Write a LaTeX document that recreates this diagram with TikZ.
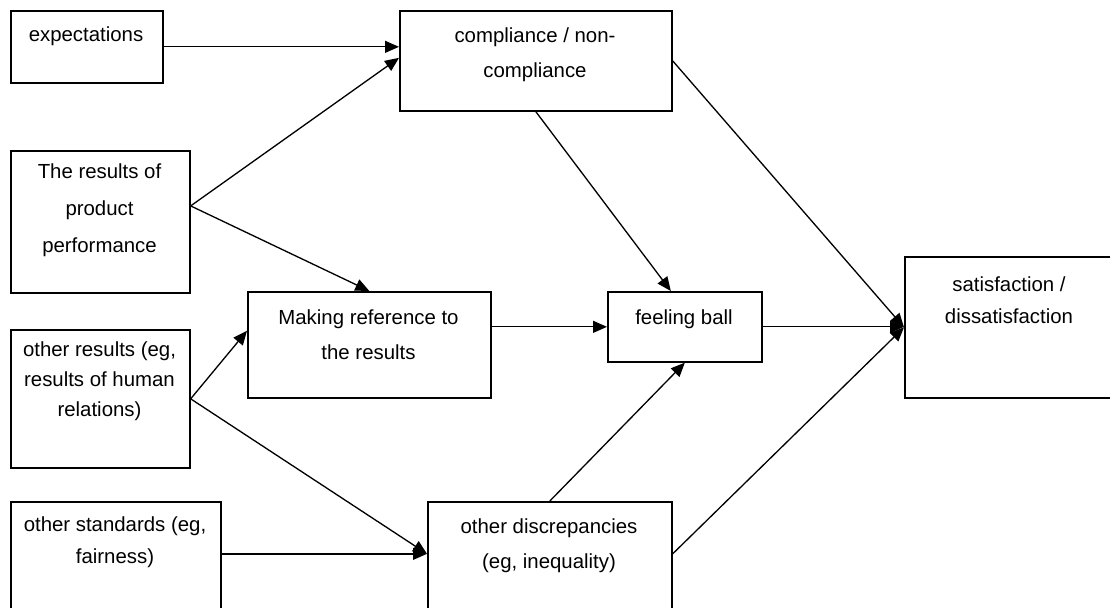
\documentclass[tikz,border=0pt]{standalone}
\usepackage{fontspec}
\setmainfont{Liberation Sans}
\usetikzlibrary{arrows.meta}

\begin{document}
\begin{tikzpicture}[x=0.2mm,y=-0.2mm,>={Triangle[length=2.8mm,width=2.4mm]},
  box/.style={draw,line width=0.95pt,anchor=north west,inner sep=0pt},
  boxtext/.style={align=center,inner sep=0pt,font=\fontsize{11.6}{#1}\selectfont},
  boxtext/.default=19.8pt,
  conn/.style={->,line width=0.75pt}]
  \useasboundingbox (0,0) rectangle (1110,607);
  \clip (0,0) rectangle (1110,607);
  \node[box,minimum width=30.4mm,minimum height=14.4mm] (exp) at (10,10) {};
  \node[box,minimum width=54.4mm,minimum height=20mm] (comp) at (399,10) {};
  \node[box,minimum width=35.8mm,minimum height=28.4mm] (prod) at (10,150) {};
  \node[box,minimum width=48.6mm,minimum height=21.2mm] (mref) at (247,291) {};
  \node[box,minimum width=30.8mm,minimum height=14mm] (feel) at (607,291) {};
  \node[box,minimum width=42mm,minimum height=28.2mm] (sat) at (904,256) {};
  \node[box,minimum width=35.8mm,minimum height=27.6mm] (othres) at (10,329) {};
  \node[box,minimum width=42mm,minimum height=23.8mm] (othstd) at (10,501) {};
  \node[box,minimum width=48.8mm,minimum height=23.8mm] (othdis) at (427,501) {};
  \node[boxtext] (exp-t) at (86,36) {expectations};
  \node[boxtext] (comp-t) at (535,55) {compliance / non-\\compliance};
  \node[boxtext=21pt] (prod-t) at (99.5,210) {The results of\\product\\performance};
  \node[boxtext] (mref-t) at (368.5,335) {Making reference to\\the results};
  \node[boxtext] (feel-t) at (684,319) {feeling ball};
  \node[boxtext=18pt] (sat-t) at (1009,300) {satisfaction /\\dissatisfaction};
  \node[boxtext=17pt] (othres-t) at (99.5,381) {other results (eg,\\results of human\\relations)};
  \node[boxtext=18pt] (othstd-t) at (115,542) {other standards (eg,\\fairness)};
  \node[boxtext] (othdis-t) at (549,546) {other discrepancies\\(eg, inequality)};
  \draw[conn] (exp.east) -- (exp.east -| comp.west);
  \draw[conn] (prod.10) -- ([yshift=0.6mm]comp.west);
  \draw[conn] (prod.10) -- (mref.north);
  \draw[conn] (othres.east) -- ([yshift=2.8mm]mref.west);
  \draw[conn] (othres.east) -- ([yshift=1.5mm]othdis.west);
  \draw[conn] ([yshift=1.5mm]othstd.east) -- ([yshift=1.5mm]othdis.west);
  \draw[conn] (mref.east |- feel.west) -- (feel.west);
  \draw[conn] (comp.south) -- ([xshift=-2.8mm]feel.north);
  \draw[conn] (othdis.north) -- (feel.south);
  \draw[conn] (comp.east) -- (sat.west);
  \draw[conn] (feel.east) -- (feel.east -| sat.west);
  \draw[conn] ([yshift=1.5mm]othdis.east) -- (sat.west);
\end{tikzpicture}
\end{document}
